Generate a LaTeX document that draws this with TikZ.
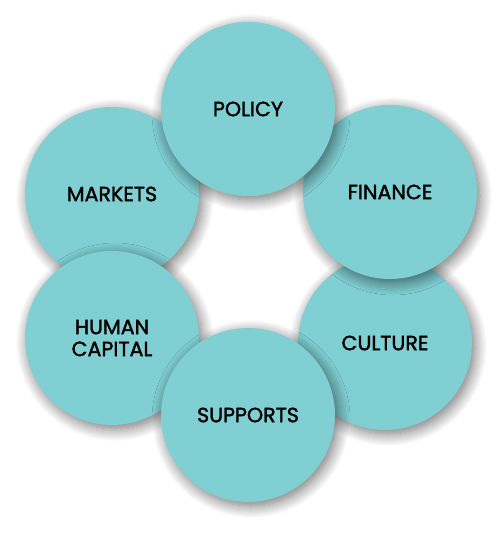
\documentclass[tikz,border=0pt]{standalone}
\usepackage{fontspec}
\setmainfont{Poppins}
\newfontfamily\lblfont{Poppins}[FakeBold=1.6]
\usepackage{xcolor}
\usetikzlibrary{shadows.blur}
\definecolor{tealfill}{HTML}{80CFD3}

\begin{document}
\begin{tikzpicture}[
  x=0.5pt, y=-0.5pt,
  bubble/.style={circle, fill=tealfill, minimum size=87pt, inner sep=0pt, align=center,
    font=\lblfont\fontsize{10.3}{11}\selectfont, text=black,
    blur shadow={shadow xshift=1.5pt, shadow yshift=-2pt, shadow blur radius=6pt, shadow blur steps=12, shadow opacity=55}}
]
\useasboundingbox (0,0) rectangle (500,533);
% drawn in stacking order, back to front
\node[bubble] (markets) at (112,194) {MARKETS};
\node[bubble] (culture) at (385,343) {CULTURE};
\node[bubble] (finance) at (390,192) {FINANCE};
\node[bubble] (policy) at (248,109) {POLICY};
\node[bubble] (human) at (112,338) {HUMAN\\CAPITAL};
\node[bubble] (supports) at (248,415) {SUPPORTS};
\end{tikzpicture}
\end{document}
